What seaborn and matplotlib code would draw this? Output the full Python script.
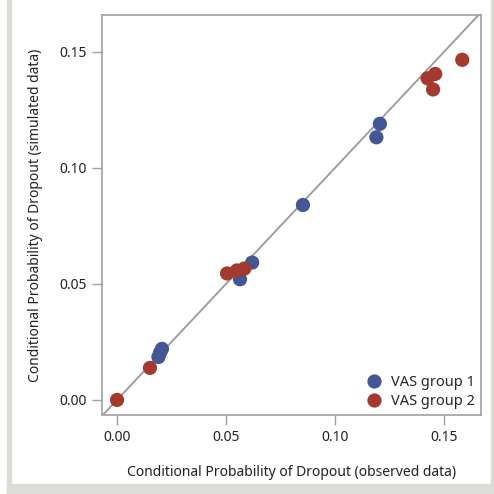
import matplotlib
matplotlib.use("Agg")
import matplotlib.pyplot as plt
import seaborn as sns
import pandas as pd
from matplotlib.patches import Rectangle

# Data
group1_observed = [0.0197, 0.0206, 0.0190, 0.0564, 0.0620, 0.0853, 0.1190, 0.1206]
group1_simulated = [0.0203, 0.0220, 0.0185, 0.0520, 0.0592, 0.0840, 0.1132, 0.1190]
group2_observed = [0.0000, 0.0151, 0.0505, 0.0550, 0.0584, 0.1425, 0.1460, 0.1450, 0.1584]
group2_simulated = [0.0000, 0.0138, 0.0545, 0.0558, 0.0566, 0.1386, 0.1405, 0.1338, 0.1466]
group_names = ["VAS group 1", "VAS group 2"]
tick_values = [0.00, 0.05, 0.10, 0.15]
tick_labels = ["0.00", "0.05", "0.10", "0.15"]

df = pd.DataFrame({
    "obs": group1_observed + group2_observed,
    "sim": group1_simulated + group2_simulated,
    "group": [group_names[0]] * len(group1_observed) + [group_names[1]] * len(group2_observed),
})

sns.set_style("white")
plt.rcParams["font.family"] = ["Noto Sans", "DejaVu Sans"]

fig = plt.figure(figsize=(4.94, 4.94), dpi=100)
fig.patch.set_facecolor("white")
frame_col = "#dcddd6"
fig.add_artist(Rectangle((7/494, 0), 4/494, 1, transform=fig.transFigure, color=frame_col, zorder=0))
fig.add_artist(Rectangle((7/494, 0), 1 - 7/494, 10/494, transform=fig.transFigure, color=frame_col, zorder=0))
fig.add_artist(Rectangle((491/494, 0), 3/494, 1, transform=fig.transFigure, color=frame_col, zorder=0))

ax = fig.add_axes([102/494, 1 - 415/494, 379/494, 400/494])
lo, hi = -0.0068, 0.1665
ax.plot([lo, hi], [lo, hi], color="#999999", lw=1.3, zorder=1)

sns.scatterplot(data=df, x="obs", y="sim", hue="group",
                palette={group_names[0]: "#445694", group_names[1]: "#A23A2E"},
                s=105, edgecolor="none", linewidth=0, ax=ax, zorder=3)

ax.set_xlim(-0.0069, 0.167)
ax.set_ylim(-0.0065, 0.1659)
ax.set_xticks(tick_values)
ax.set_xticklabels(tick_labels)
ax.set_yticks(tick_values)
ax.set_yticklabels(tick_labels)
ax.tick_params(axis="both", direction="out", length=7, width=1, color="#a0a0a0",
               labelsize=10, labelcolor="#222222", pad=4, bottom=True, left=True)
for sp in ax.spines.values():
    sp.set_color("#a0a0a0")
    sp.set_linewidth(1.2)

ax.set_xlabel("Conditional Probability of Dropout (observed data)", fontsize=10, color="#222222", labelpad=14)
ax.set_ylabel("Conditional Probability of Dropout (simulated data)", fontsize=10, color="#222222", labelpad=12)

leg = ax.legend(loc="lower right", frameon=False, fontsize=10.5, handletextpad=0.2,
                borderaxespad=0.1, labelspacing=0.3, markerscale=1.0, borderpad=0.3)

fig.savefig("out.png", dpi=100)
